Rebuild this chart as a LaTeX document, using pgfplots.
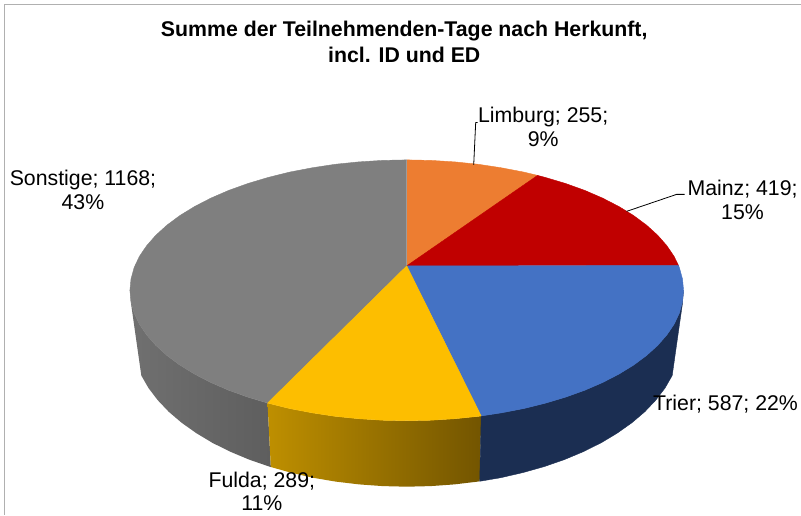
\documentclass[border=0pt]{standalone}
\usepackage{fontspec}
\setmainfont{Liberation Sans}
\usepackage{pgfplots}
\pgfplotsset{compat=1.18}
\definecolor{cOrange}{HTML}{ED7D31}
\definecolor{cRed}{HTML}{C00000}
\definecolor{cBlue}{HTML}{4472C4}
\definecolor{cYellow}{HTML}{FDBE00}
\definecolor{cGray}{HTML}{7F7F7F}
\definecolor{cNavy}{HTML}{1B2E52}
\definecolor{cFrame}{HTML}{B0B0B0}
\definecolor{cFuldaL}{HTML}{BE8F00}
\definecolor{cFuldaR}{HTML}{735500}
\definecolor{cGrayL}{HTML}{707070}
\definecolor{cGrayR}{HTML}{5E5E5E}
\begin{document}
\begin{tikzpicture}
\begin{axis}[
  scale only axis, width=801pt, height=515pt,
  xmin=0, xmax=801, ymin=0, ymax=515, y dir=reverse,
  axis line style={draw=none}, xtick=\empty, ytick=\empty,
  clip=false,
  every axis plot/.append style={mark=none, line join=round, thin},
]
% frame
\addplot[color=cFrame, line width=1pt] coordinates {(4.5,515) (4.5,4.5) (801,4.5)};

% side walls
\addplot[draw=none, left color=cGrayL, right color=cGrayR] coordinates {
(130,290.5)(131.1,301.9)(134.2,313.2)(139.4,324.3)(146.7,335.1)(156.0,345.7)(167.1,355.75)(180.1,365.4)(194.8,374.4)(211.1,382.8)(228.9,390.5)(248.1,397.4)(267.7,403.3)
(271,467.3)(269.5,466.9)(249.3,459.9)(230.2,451.9)(212.5,443.1)(196.4,433.4)(181.7,423)(168.8,412)(157.8,400.4)(148.6,388.3)(141.4,375.8)(131,303)(130,290.5)};
\addplot[draw=none, left color=cFuldaL, right color=cFuldaR] coordinates {
(267.7,403.3)(268.5,403.5)(289.9,408.8)(312.3,413.1)(335.3,416.6)(358.9,419.0)(382.8,420.5)(407,421)(431.2,420.5)(455.1,419.0)(478.7,416.6)(481.5,416.2)
(480,481.6)(478.2,481.9)(454.7,484.7)(431,486.4)(407,487)(383,486.4)(359.3,484.7)(335.8,481.9)(312.9,478)(290.8,472.9)(271,467.3)(267.7,403.3)};
\addplot[color=cNavy, fill=cNavy] coordinates {
(481.5,416.2)(501.7,413.1)(524.1,408.8)(545.5,403.5)(565.9,397.4)(585.1,390.5)(602.9,382.8)(619.2,374.4)(633.9,365.4)(646.9,355.75)(658.0,345.7)(667.3,335.1)(674.6,324.3)(679.8,313.2)(682.9,301.9)(684,290.5)
(682.7,305)(672.6,375.8)(665.4,388.3)(656.2,400.4)(645.2,412)(632.3,423)(617.6,433.4)(601.5,443.1)(583.8,451.9)(564.7,459.9)(544.5,466.9)(523.2,472.9)(501.1,478)(480,481.6)(481.5,416.2)};

% top face: Limburg 255, Mainz 419, Trier 587, Fulda 289, Sonstige 1168
\addplot[color=cGray, fill=cGray] coordinates {
(407,266)(267.7,403.3)(248.1,397.4)(228.9,390.5)(211.1,382.8)(194.8,374.4)(180.1,365.4)(167.1,355.75)(156.0,345.7)(146.7,335.1)(139.4,324.3)(134.2,313.2)(131.1,301.9)(130,290.5)(131.1,279.1)(134.2,267.8)(139.4,256.7)(146.7,245.9)(156.0,235.3)(167.1,225.25)(180.1,215.6)(194.8,206.6)(211.1,198.2)(228.9,190.5)(248.1,183.6)(268.5,177.5)(289.9,172.2)(312.3,167.9)(335.3,164.4)(358.9,162.0)(382.8,160.5)(407,160)(407,266)};
\addplot[color=cOrange, fill=cOrange] coordinates {
(407.5,266)(407.5,160)(431.2,160.5)(455.1,162.0)(478.7,164.4)(501.7,167.9)(524.1,172.2)(537.9,175.5)(407.5,266)};
\addplot[color=cRed, fill=cRed] coordinates {
(407,266)(537.9,175.5)(545.5,177.5)(565.9,183.6)(585.1,190.5)(602.9,198.2)(619.2,206.6)(633.9,215.6)(646.9,225.25)(658.0,235.3)(667.3,245.9)(674.6,256.7)(679.0,265.8)(407,266)};
\addplot[color=cBlue, fill=cBlue] coordinates {
(407,266)(679.0,265.8)(679.8,267.8)(682.9,279.1)(684,290.5)(682.9,301.9)(679.8,313.2)(674.6,324.3)(667.3,335.1)(658.0,345.7)(646.9,355.75)(633.9,365.4)(619.2,374.4)(602.9,382.8)(585.1,390.5)(565.9,397.4)(545.5,403.5)(524.1,408.8)(501.7,413.1)(481.5,416.2)(407,266)};
\addplot[color=cYellow, fill=cYellow] coordinates {
(407,266)(481.5,416.2)(478.7,416.6)(455.1,419.0)(431.2,420.5)(407,421)(382.8,420.5)(358.9,419.0)(335.3,416.6)(312.3,413.1)(289.9,408.8)(268.5,403.5)(267.7,403.3)(407,266)};

% leader lines
\addplot[color=black, line width=0.8pt] coordinates {(474,165)(476,122.5)(478,122.5)};
\addplot[color=black, line width=0.8pt] coordinates {(627,211.5)(677,194.5)(685,194.5)};

% title
\node[anchor=base, inner sep=0pt, font=\bfseries\fontsize{21.3}{25}\selectfont] at (axis cs:404.5,37) {Summe der Teilnehmenden-Tage nach Herkunft,};
\node[anchor=base, inner sep=0pt, font=\bfseries\fontsize{21.3}{25}\selectfont] at (axis cs:404.5,63) {incl. ID und ED};

% data labels
\tikzset{dl/.style={anchor=base, inner sep=0pt, font=\fontsize{21.3}{25}\selectfont}}
\node[dl] at (axis cs:543.5,123) {Limburg; 255;};
\node[dl] at (axis cs:543.5,147) {9\%};
\node[dl] at (axis cs:743,196) {Mainz; 419;};
\node[dl] at (axis cs:743,220) {15\%};
\node[dl] at (axis cs:83,186) {Sonstige; 1168;};
\node[dl] at (axis cs:83,209.5) {43\%};
\node[dl] at (axis cs:726,411) {Trier; 587; 22\%};
\node[dl] at (axis cs:262,488) {Fulda; 289;};
\node[dl] at (axis cs:262,511) {11\%};
\end{axis}
\end{tikzpicture}
\end{document}
